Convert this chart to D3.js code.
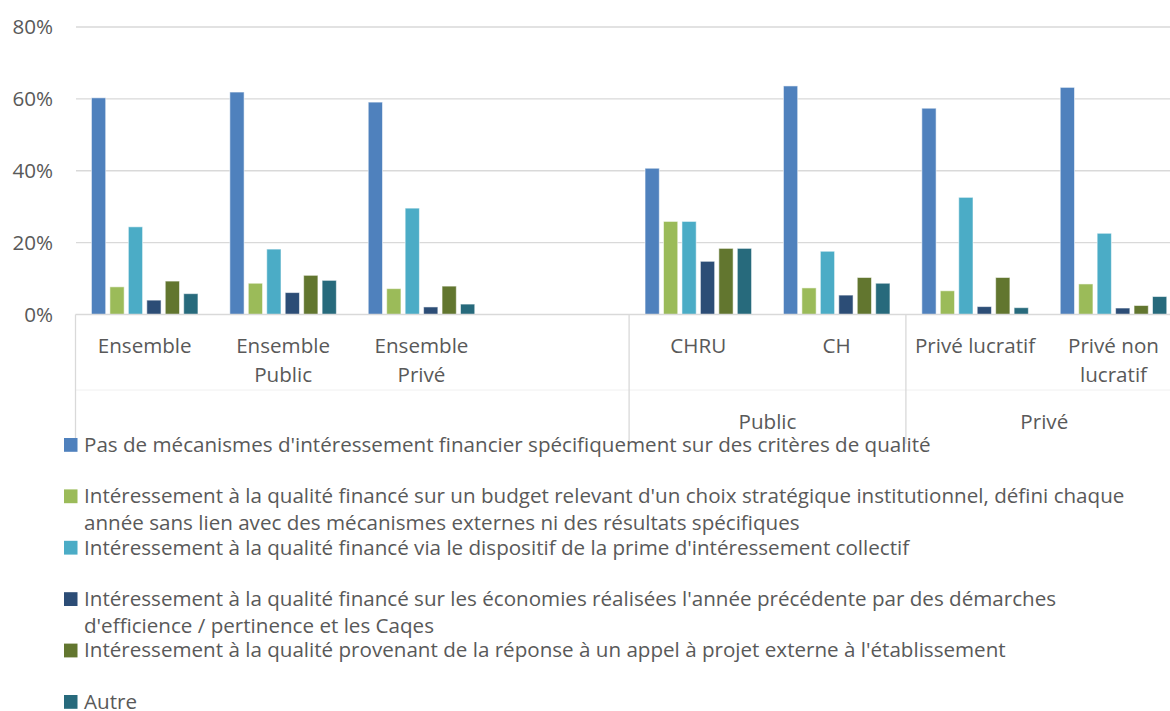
<!DOCTYPE html>
<html>
<head>
<meta charset="utf-8">
<script src="https://cdn.jsdelivr.net/npm/d3@7"></script>
<style>
  html, body { margin: 0; padding: 0; background: #fff; }
  svg { display: block; font-family: "Open Sans", "Noto Sans", sans-serif; }
</style>
</head>
<body>
<svg id="chart" width="1170" height="711"></svg>
<script>
// Categories (first level), the empty slot separates the "Ensemble" block from the detail
const categories = ["Ensemble", "Ensemble Public", "Ensemble Privé", "", "CHRU", "CH", "Privé lucratif", "Privé non lucratif"];
const categoryLines = [["Ensemble"], ["Ensemble", "Public"], ["Ensemble", "Privé"], [], ["CHRU"], ["CH"], ["Privé lucratif"], ["Privé non", "lucratif"]];
// Second level grouping
const groupNames = ["", "Public", "Privé"];
const groupSizes = [4, 2, 2];

// Series (share of establishments)
const seriesNames = [
  ["Pas de mécanismes d'intéressement financier spécifiquement sur des critères de qualité"],
  ["Intéressement à la qualité financé sur un budget relevant d'un choix stratégique institutionnel, défini chaque",
   "année sans lien avec des mécanismes externes ni des résultats spécifiques"],
  ["Intéressement à la qualité financé via le dispositif de la prime d'intéressement collectif"],
  ["Intéressement à la qualité financé sur les économies réalisées l'année précédente par des démarches",
   "d'efficience / pertinence et les Caqes"],
  ["Intéressement à la qualité provenant de la réponse à un appel à projet externe à l'établissement"],
  ["Autre"]
];
const seriesColors = ["#4F81BD", "#9BBB59", "#4BACC6", "#2C4D76", "#62762F", "#276A7C"];

const pasDeMecanisme    = [0.603, 0.619, 0.591, null, 0.407, 0.636, 0.574, 0.632];
const budgetStrategique = [0.077, 0.087, 0.072, null, 0.259, 0.074, 0.066, 0.085];
const primeCollective   = [0.244, 0.182, 0.296, null, 0.259, 0.176, 0.326, 0.226];
const economies         = [0.040, 0.061, 0.021, null, 0.148, 0.054, 0.022, 0.018];
const appelProjet       = [0.093, 0.109, 0.079, null, 0.184, 0.103, 0.103, 0.025];
const autre             = [0.058, 0.095, 0.029, null, 0.184, 0.087, 0.019, 0.050];
const seriesValues = [pasDeMecanisme, budgetStrategique, primeCollective, economies, appelProjet, autre];

const yTicks = [0, 0.2, 0.4, 0.6, 0.8];

const textColor = "#595959";
const gridColor = "#d9d9d9";
const fontSize = 20.6;

const svg = d3.select("#chart");

const x0 = d3.scaleBand().domain(categories).range([75.5, 1182.7]).paddingInner(0).paddingOuter(0);
const x1 = d3.scaleBand().domain(d3.range(seriesValues.length)).range([0, x0.bandwidth()])
  .paddingInner(0).paddingOuter(0.75);
const y = d3.scaleLinear().domain([0, 0.8]).range([314.5, 27]);

// Gridlines
svg.append("g").selectAll("line").data(yTicks.filter(d => d > 0)).join("line")
  .attr("x1", 76).attr("x2", 1170)
  .attr("y1", d => y(d)).attr("y2", d => y(d))
  .attr("stroke", gridColor).attr("stroke-width", 1.3);

// Y axis labels
const yAxis = d3.axisLeft(y).tickValues(yTicks).tickFormat(d3.format(".0%")).tickSize(0).tickPadding(0);
const yG = svg.append("g").attr("transform", "translate(53,0)").call(yAxis);
yG.select(".domain").remove();
yG.selectAll("text").attr("fill", textColor).style("font-size", fontSize + "px")
  .style("font-family", "'Open Sans', 'Noto Sans', sans-serif");

// Bars
const inset = 2.1;
seriesValues.forEach((vals, si) => {
  svg.append("g").selectAll("rect")
    .data(vals.map((v, ci) => ({ v, c: categories[ci] })).filter(d => d.v !== null))
    .join("rect")
    .attr("x", d => x0(d.c) + x1(si) + inset)
    .attr("width", x1.bandwidth() - 2 * inset)
    .attr("y", d => y(d.v))
    .attr("height", d => y(0) - y(d.v))
    .attr("fill", seriesColors[si])
    .attr("stroke", "#ffffff").attr("stroke-opacity", 0.55).attr("stroke-width", 1);
});

// Category axis
const axisY = y(0);
const axisBottom = 444;
svg.append("line").attr("x1", 75.5).attr("x2", 1170).attr("y1", axisY).attr("y2", axisY)
  .attr("stroke", gridColor).attr("stroke-width", 1.3);
svg.append("line").attr("x1", 75.5).attr("x2", 1170).attr("y1", 390).attr("y2", 390)
  .attr("stroke", "#f0f0f0").attr("stroke-width", 1);

// Group boundaries and second level labels
let start = 0;
groupNames.forEach((g, gi) => {
  const xs = x0(categories[start]);
  const xe = x0(categories[start + groupSizes[gi] - 1]) + x0.bandwidth();
  svg.append("line").attr("x1", xs).attr("x2", xs).attr("y1", axisY).attr("y2", axisBottom)
    .attr("stroke", gridColor).attr("stroke-width", 1.3);
  svg.append("text").attr("x", (xs + xe) / 2).attr("y", 428.5)
    .attr("text-anchor", "middle").attr("fill", textColor).style("font-size", fontSize + "px").text(g);
  start += groupSizes[gi];
});

// First level labels
categories.forEach((c, ci) => {
  categoryLines[ci].forEach((line, li) => {
    svg.append("text").attr("x", x0(c) + x0.bandwidth() / 2).attr("y", 352.7 + li * 28.8)
      .attr("text-anchor", "middle").attr("fill", textColor).style("font-size", fontSize + "px").text(line);
  });
});

// Legend
const legendTop = 438;
const legendStep = 51.4;
seriesNames.forEach((lines, i) => {
  const top = legendTop + i * legendStep;
  svg.append("rect").attr("x", 64).attr("y", top).attr("width", 13.5).attr("height", 13.8)
    .attr("fill", seriesColors[i]);
  lines.forEach((line, li) => {
    svg.append("text").attr("x", 84).attr("y", top + 13.8 + li * 26.5)
      .attr("fill", textColor).style("font-size", fontSize + "px").text(line);
  });
});
</script>
</body>
</html>
